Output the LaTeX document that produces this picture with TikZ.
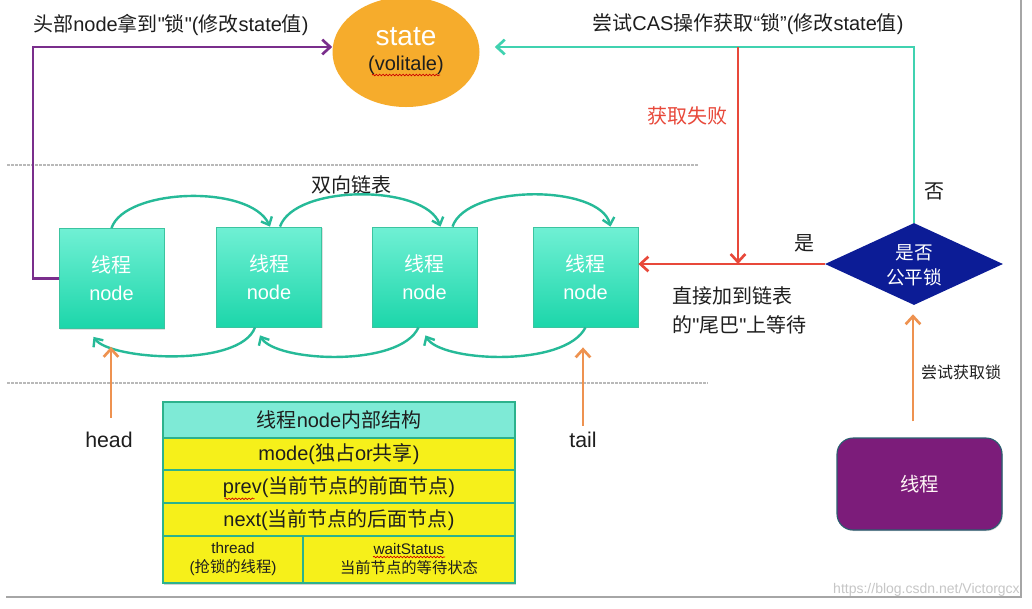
\documentclass[tikz,border=0pt]{standalone}
\usepackage{fontspec}
\setmainfont{Noto Sans CJK SC}
\newfontfamily\la{Liberation Sans}
\usetikzlibrary{arrows.meta,shapes.geometric,calc,decorations.pathmorphing,shadows}
\definecolor{teal1}{RGB}{38,186,152}
\definecolor{casline}{RGB}{64,210,176}
\definecolor{nodetop}{RGB}{112,240,212}
\definecolor{nodebot}{RGB}{28,214,170}
\definecolor{nodeedge}{RGB}{60,196,160}
\definecolor{purp}{RGB}{122,46,140}
\definecolor{redl}{RGB}{232,72,58}
\definecolor{orangel}{RGB}{238,146,80}
\definecolor{statefill}{RGB}{246,172,44}
\definecolor{dia}{RGB}{12,28,150}
\definecolor{hdrfill}{RGB}{126,234,214}
\definecolor{rowfill}{RGB}{246,240,26}
\definecolor{tabedge}{RGB}{44,178,140}
\definecolor{thrfill}{RGB}{124,28,122}
\definecolor{thredge}{RGB}{40,96,112}
\definecolor{txt}{RGB}{30,30,30}
\tikzset{
  lbl/.style={font=\fontsize{15pt}{18pt}\selectfont, text=txt, inner sep=0pt},
  listnode/.style={draw=nodeedge, line width=0.6pt, top color=nodetop, bottom color=nodebot,
    minimum width=105*0.75pt, minimum height=100*0.75pt, inner sep=0pt, text=white,
    align=center, font=\fontsize{15pt}{21pt}\selectfont, drop shadow={shadow xshift=0.8pt, shadow yshift=-0.8pt, opacity=0.25}},
  link/.style={teal1, line width=1.8pt, -{Straight Barb[length=5pt,width=9pt]}},
  flow/.style={line width=2pt, -{Straight Barb[length=6pt,width=11pt]}},
  cell/.style={draw=tabedge, line width=1.2pt},
  celltxt/.style={font=\fontsize{15pt}{18pt}\selectfont, text=txt, inner sep=0pt},
  sep/.style={gray!55, line width=1.2pt, dash pattern=on 2pt off 1pt},
  squig/.style={red!80!black, line width=0.5pt, decorate, decoration={snake, amplitude=0.6pt, segment length=2.5pt}}
}
\begin{document}
\begin{tikzpicture}[x=0.75pt,y=-0.75pt]
\useasboundingbox (0,0) rectangle (1032,608);
\fill[white] (0,0) rectangle (1032,608);

% screenshot frame
\draw[gray!70, line width=1.3pt] (6,597) -- (1021,597) -- (1021,0);

% section separators
\draw[sep] (7,165) -- (698,165);
\draw[sep] (7,383) -- (708,383);

% state variable
\node[ellipse, fill=statefill, minimum width=147*0.75pt, minimum height=110*0.75pt, inner sep=0pt] (state) at (406,52) {};
\node[font=\la\fontsize{21pt}{24pt}\selectfont, text=white, inner sep=0pt] (stxt) at (406,37) {state};
\node[font=\la\fontsize{15pt}{18pt}\selectfont, text=txt, inner sep=0pt] (vtxt) at (406,65) {(volitale)};
\draw[squig] (372,75) -- (440,75);

% doubly linked list of thread nodes
\node[listnode] (n1) at (111.5,278.5) {线程\\{\la node}};
\node[listnode] (n2) at (269,277) {线程\\{\la node}};
\node[listnode] (n3) at (424.5,277) {线程\\{\la node}};
\node[listnode] (n4) at (585.5,277) {线程\\{\la node}};
\node[lbl] (dl) at (351,185) {双向链表};

% next pointers
\draw[link] ($(n1.north)+(0,0)$) .. controls (125,188) and (250,184) .. ($(n2.north)+(1,0)$);
\draw[link] ($(n2.north)+(11,0)$) .. controls (295,184) and (425,184) .. ($(n3.north)+(16,0)$);
\draw[link] ($(n3.north)+(28,0)$) .. controls (467,184) and (600,184) .. ($(n4.north)+(25,0)$);
% prev pointers
\draw[link] ($(n2.south)+(-14,0)$) .. controls (240,368) and (110,360) .. ($(n1.south)+(-18,8)$);
\draw[link] ($(n3.south)+(-6,0)$) .. controls (400,368) and (275,362) .. ($(n2.south)+(-9,8)$);
\draw[link] ($(n4.south)+(0,0)$) .. controls (565,368) and (440,362) .. ($(n3.south)+(1,8)$);

% head / tail references
\node[lbl, font=\la\fontsize{16pt}{18pt}\selectfont] (head) at (109,440) {head};
\node[lbl, font=\la\fontsize{16pt}{18pt}\selectfont] (tail) at (583,440) {tail};
\draw[flow, orangel] ($(head.north)+(2,-14)$) -- ($(n1.south)+(-0.5,18)$);
\draw[flow, orangel] ($(tail.north)+(0,-6)$) -- ($(n4.south)+(-2.5,20)$);

% head node acquires the lock
\draw[flow, purp] (n1.west) -- (33,278.5) -- (33,47) -- (state.west |- 0,47);
\node[lbl, anchor=west] (hl) at (33,25) {头部{\la node}拿到{\la "}锁{\la "(}修改{\la state}值{\la )}};

% fairness check
\node[diamond, fill=dia, minimum width=178*0.75pt, minimum height=82*0.75pt, aspect=2.17, inner sep=0pt] (fair) at (914,264) {};
\node[text=white, align=center, font=\fontsize{14pt}{19pt}\selectfont, inner sep=0pt] (fairtxt) at (914,265) {是否\\公平锁};

% CAS attempt path
\draw[flow, casline] (fair.north) -- (914,47) -- ($(state.east)+(15,-5)$);
\node[lbl, font=\fontsize{15pt}{18pt}\selectfont] (casl) at (748,24) {尝试{\la CAS}操作获取{\la “}锁{\la ”(}修改{\la state}值{\la )}};
\node[lbl] (no) at (934,191) {否};

% failure and fair-lock path to the tail
\coordinate (fj) at (738,47);
\coordinate (jn) at (738,264);
\draw[flow, redl] (fj) -- (jn);
\node[lbl, text=redl] (fail) at (687,116) {获取失败};
\draw[flow, redl] (fair.west) -- (n4.east |- fair.west);
\node[lbl] (yes) at (804,243) {是};
\node[lbl, anchor=north west, align=left, font=\fontsize{15pt}{22pt}\selectfont] (tl) at (672,286) {直接加到链表\\的{\la "}尾巴{\la "}上等待};

% incoming thread
\node[draw=thredge, line width=0.8pt, fill=thrfill, rounded corners=12pt, minimum width=165*0.75pt,
      minimum height=92*0.75pt, text=white!85!pink, font=\fontsize{14.5pt}{18pt}\selectfont,
      drop shadow={shadow xshift=0.6pt, shadow yshift=-0.8pt, opacity=0.3}] (thr) at (919.5,484) {线程};
\draw[flow, orangel] ($(thr.north)+(-6.5,-16)$) -- ($(fair.south)+(-1,9)$);
\node[lbl, font=\fontsize{12pt}{14pt}\selectfont] (try) at (961,372) {尝试获取锁};

% node internal structure table
\path[drop shadow={shadow xshift=0.8pt, shadow yshift=-1.2pt, opacity=0.35}, fill=rowfill] (163,402) rectangle (515,583);
\draw[cell, fill=hdrfill] (163,402) rectangle (515,438);
\draw[cell, fill=rowfill] (163,438) rectangle (515,470);
\draw[cell, fill=rowfill] (163,470) rectangle (515,503);
\draw[cell, fill=rowfill] (163,503) rectangle (515,536);
\draw[cell, fill=rowfill] (163,536) rectangle (303,583);
\draw[cell, fill=rowfill] (303,536) rectangle (515,583);
\node[celltxt] (r0) at (339,420) {线程{\la node}内部结构};
\node[celltxt] (r1) at (339,454) {{\la mode(}独占{\la or}共享{\la )}};
\node[celltxt] (r2) at (339,487) {{\la prev(}当前节点的前面节点{\la )}};
\node[celltxt] (r3) at (339,520) {{\la next(}当前节点的后面节点{\la )}};
\node[celltxt, align=center, font=\fontsize{11.5pt}{14pt}\selectfont] (r4a) at (233,559) {{\la thread}\\{\la (}抢锁的线程{\la )}};
\node[celltxt, align=center, font=\fontsize{11.5pt}{14pt}\selectfont] (r4b) at (409,559) {{\la waitStatus}\\当前节点的等待状态};
\draw[squig] (r2.south west) ++(2,1) -- ++(30,0);
\draw[squig] (373,557) -- (445,557);

% watermark
\node[font=\la\fontsize{10.5pt}{12pt}\selectfont, text=gray!45, inner sep=0pt, anchor=east] (wm) at (1020,590) {https://blog.csdn.net/Victorgcx};
\end{tikzpicture}
\end{document}
